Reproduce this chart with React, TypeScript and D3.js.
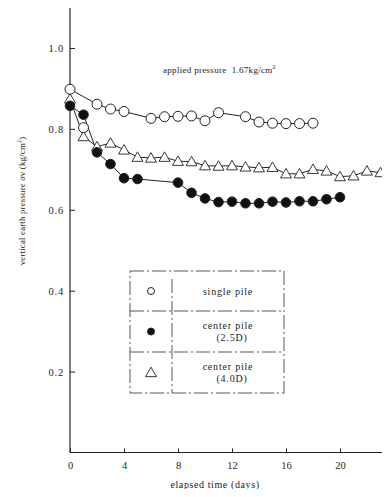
import React, { useRef, useEffect } from "react";
import * as d3 from "d3";

// elapsed time (days) and vertical earth pressure (kg/cm2)
const singleDays = [0, 2, 3, 4, 6, 7, 8, 9, 10, 11, 13, 14, 15, 16, 17, 18];
const singleVals = [0.898, 0.861, 0.849, 0.843, 0.826, 0.83, 0.831, 0.832, 0.82, 0.84, 0.83, 0.817, 0.814, 0.813, 0.813, 0.814];

const center25Days = [0, 1, 2, 3, 4, 5, 8, 9, 10, 11, 12, 13, 14, 15, 16, 17, 18, 19, 20];
const center25Vals = [0.857, 0.835, 0.742, 0.713, 0.678, 0.676, 0.667, 0.642, 0.628, 0.619, 0.62, 0.616, 0.616, 0.62, 0.618, 0.621, 0.621, 0.626, 0.631];

const center40Days = [0, 1, 2, 3, 4, 5, 6, 7, 8, 9, 10, 11, 12, 13, 14, 15, 16, 17, 18, 19, 20, 21, 22, 23];
const center40Vals = [0.874, 0.781, 0.756, 0.765, 0.748, 0.73, 0.728, 0.73, 0.72, 0.719, 0.709, 0.708, 0.709, 0.706, 0.704, 0.705, 0.689, 0.689, 0.7, 0.696, 0.682, 0.684, 0.696, 0.692];

// stray open circle near day 1
const strayDays = [1];
const strayVals = [0.803];

const xTicks = [0, 4, 8, 12, 16, 20];
const yTicks = [0.2, 0.4, 0.6, 0.8, 1.0];

const legendLabels = [["single pile"], ["center pile", "(2.5D)"], ["center pile", "(4.0D)"]];

const FONT = "'Liberation Serif', 'DejaVu Serif', serif";

const App = () => {
  const svgRef = useRef<SVGSVGElement>(null);

  useEffect(() => {
    const width = 390;
    const svg = d3.select(svgRef.current);
    svg.selectAll("*").remove();

    const x = d3.scaleLinear().domain([0, 24]).range([70, 394]);
    const y = d3.scaleLinear().domain([0, 1.1]).range([452.5, 7.5]);
    const ink = "#222";

    // frame: left axis, top line, bottom axis
    const frame = svg.append("g").attr("stroke", ink).attr("stroke-width", 1.2).attr("fill", "none");
    frame.append("line").attr("x1", x(0)).attr("x2", x(0)).attr("y1", y(1.1)).attr("y2", y(0));
    frame.append("line").attr("x1", x(0)).attr("x2", width).attr("y1", y(1.1)).attr("y2", y(1.1));
    frame.append("line").attr("x1", x(0)).attr("x2", width).attr("y1", y(0)).attr("y2", y(0));

    const yAxis = svg.append("g")
      .attr("transform", `translate(${x(0)},0)`)
      .call(d3.axisRight(y).tickValues(yTicks).tickSize(5).tickFormat(d3.format(".1f")));
    yAxis.select(".domain").remove();
    yAxis.selectAll("line").attr("stroke", ink);
    yAxis.selectAll("text")
      .attr("x", -6).attr("dy", "0.35em")
      .style("text-anchor", "end")
      .style("font-family", FONT).style("font-size", "10.5px")
      .style("letter-spacing", "0.8px").attr("fill", ink);

    const xAxis = svg.append("g")
      .attr("transform", `translate(0,${y(0)})`)
      .call(d3.axisTop(x).tickValues(xTicks).tickSize(4).tickFormat(d3.format("d")));
    xAxis.select(".domain").remove();
    xAxis.selectAll("line").attr("stroke", ink);
    xAxis.selectAll("text")
      .attr("y", 16).attr("dy", "0")
      .style("font-family", FONT).style("font-size", "10.5px").attr("fill", ink);

    const zip = (a: number[], b: number[]) => a.map((d, i) => [d, b[i]] as [number, number]);
    const line = d3.line<[number, number]>().x(d => x(d[0])).y(d => y(d[1]));

    const single = zip(singleDays, singleVals);
    const c25 = zip(center25Days, center25Vals);
    const c40 = zip(center40Days, center40Vals);

    [c40, c25, single].forEach(s => {
      svg.append("path").attr("d", line(s) || "").attr("fill", "none")
        .attr("stroke", ink).attr("stroke-width", 1);
    });

    const triPath = d3.symbol().type(d3.symbolTriangle).size(52)() || "";
    svg.append("g").selectAll("path").data(c40).enter().append("path")
      .attr("d", triPath)
      .attr("transform", d => `translate(${x(d[0])},${y(d[1]) + 1})`)
      .attr("fill", "#fff").attr("stroke", ink).attr("stroke-width", 0.9);

    svg.append("g").selectAll("circle").data(c25).enter().append("circle")
      .attr("cx", d => x(d[0])).attr("cy", d => y(d[1])).attr("r", 4.8)
      .attr("fill", "#111").attr("stroke", ink);

    svg.append("g").selectAll("circle").data(single.concat(zip(strayDays, strayVals))).enter().append("circle")
      .attr("cx", d => x(d[0])).attr("cy", d => y(d[1])).attr("r", 5)
      .attr("fill", "#fff").attr("stroke", ink).attr("stroke-width", 1);

    // annotation
    const ann = svg.append("text").attr("x", 163).attr("y", 73)
      .style("font-family", FONT).style("font-size", "9px")
      .style("letter-spacing", "0.3px").attr("fill", ink);
    ann.append("tspan").text("applied pressure\u00a0 1.67kg/cm");
    ann.append("tspan").attr("dy", -4).style("font-size", "6px").text("2");

    // axis titles
    const yt = svg.append("text")
      .attr("transform", "translate(25,201) rotate(-90)")
      .style("text-anchor", "middle")
      .style("font-family", FONT).style("font-size", "8.8px")
      .style("letter-spacing", "0.2px").attr("fill", ink);
    yt.append("tspan").text("vertical earth pressure ");
    yt.append("tspan").style("font-style", "italic").text("σ");
    yt.append("tspan").text("v (kg/cm");
    yt.append("tspan").attr("dy", -4).style("font-size", "6px").text("2");
    yt.append("tspan").attr("dy", 4).text(")");

    svg.append("text").attr("x", 215).attr("y", 488)
      .style("text-anchor", "middle")
      .style("font-family", FONT).style("font-size", "10px")
      .style("letter-spacing", "0.6px").attr("fill", ink)
      .text("elapsed time (days)");

    // legend box
    const lg = svg.append("g").attr("fill", "none").attr("stroke", "#444").attr("stroke-width", 0.9)
      .attr("stroke-dasharray", "14,3,2,3");
    const L = 130, R = 284, T = 271, B = 393, D = 172;
    const rows = [T, 311, 352, B];
    lg.append("rect").attr("x", L).attr("y", T).attr("width", R - L).attr("height", B - T);
    lg.append("line").attr("x1", D).attr("x2", D).attr("y1", T + 8).attr("y2", B);
    [311, 352].forEach(r => lg.append("line").attr("x1", L).attr("x2", R).attr("y1", r).attr("y2", r));

    const mid = (i: number) => (rows[i] + rows[i + 1]) / 2;
    svg.append("circle").attr("cx", 151).attr("cy", mid(0)).attr("r", 3.5)
      .attr("fill", "#fff").attr("stroke", ink);
    svg.append("circle").attr("cx", 151).attr("cy", mid(1)).attr("r", 3.5)
      .attr("fill", "#111").attr("stroke", ink);
    svg.append("path").attr("d", triPath).attr("transform", `translate(151,${mid(2) + 1})`)
      .attr("fill", "#fff").attr("stroke", ink).attr("stroke-width", 0.9);

    legendLabels.forEach((lines, i) => {
      const t = svg.append("text")
        .attr("y", mid(i) - (lines.length - 1) * 6)
        .style("text-anchor", "middle")
        .style("font-family", FONT).style("font-size", "10px")
        .style("letter-spacing", "0.8px").attr("fill", ink);
      lines.forEach((s, j) => {
        t.append("tspan").attr("x", 228 + (j > 0 ? 4 : 0)).attr("dy", j === 0 ? "0.35em" : "12").text(s);
      });
    });
  }, []);

  return (
    <div style={{ margin: -8 }}>
      <svg ref={svgRef} width={390} height={497} style={{ display: "block", background: "#fff" }}></svg>
    </div>
  );
};

export default App;
